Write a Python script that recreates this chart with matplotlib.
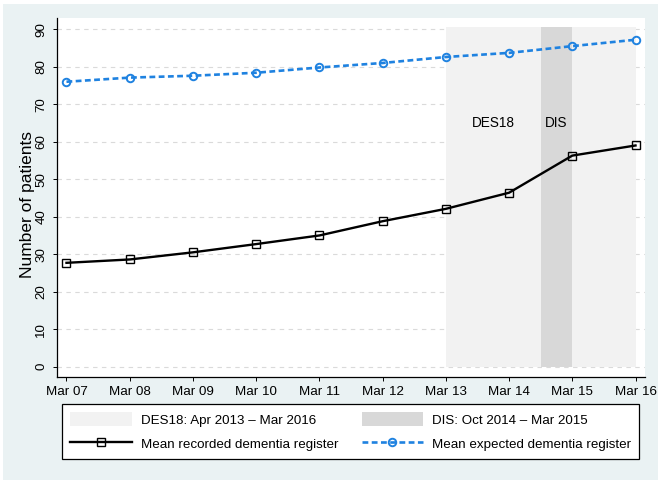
import matplotlib
matplotlib.use("Agg")
import matplotlib.pyplot as plt
from matplotlib.patches import Patch, Rectangle
from matplotlib.lines import Line2D

plt.rcParams['font.family'] = ['Liberation Sans', 'DejaVu Sans']

# ---- data ----
tick_labels = ["Mar 07", "Mar 08", "Mar 09", "Mar 10", "Mar 11",
               "Mar 12", "Mar 13", "Mar 14", "Mar 15", "Mar 16"]
recorded = [27.7, 28.6, 30.5, 32.7, 35.0, 38.8, 42.1, 46.4, 56.3, 59.0]
expected = [76.0, 77.1, 77.6, 78.4, 79.8, 81.0, 82.6, 83.7, 85.5, 87.2]
y_ticks = [0, 10, 20, 30, 40, 50, 60, 70, 80, 90]

# policy periods (in positions of the x categories)
des18_start, des18_end = 6.0, 9.0
dis_start, dis_end = 7.5, 8.0
band_top = 90.5
des18_text = "DES18"
dis_text = "DIS"
des18_legend = "DES18: Apr 2013 \u2013 Mar 2016"
dis_legend = "DIS: Oct 2014 \u2013 Mar 2015"
rec_label = "Mean recorded dementia register"
exp_label = "Mean expected dementia register"

# ---- styles ----
bg = "#EAF2F3"
des18_col = "#F2F2F2"
dis_col = "#D8D8D8"
blue = "#1F82E0"

W, H = 664, 484
fig = plt.figure(figsize=(W / 100, H / 100), dpi=100, facecolor="white")
fig.patches.append(Rectangle((3 / W, 4 / H), (658 - 3) / W, (480 - 4) / H,
                             transform=fig.transFigure, facecolor=bg,
                             edgecolor="none", zorder=-10))

ax = fig.add_axes([57 / W, 1 - 376.7 / H, (645 - 57) / W, (376.7 - 18) / H])
ax.set_facecolor("white")

x = list(range(len(tick_labels)))

ax.set_xlim(-0.15, 9.15)
ax.set_ylim(-2.67, 93.0)

# grid
for yv in y_ticks:
    ax.axhline(yv, color="#DADADA", lw=0.8, ls=(0, (4, 4)), zorder=0.5)

# bands
ax.fill_between([des18_start, des18_end], 0, band_top, color=des18_col,
                lw=0, zorder=1)
ax.fill_between([dis_start, dis_end], 0, band_top, color=dis_col,
                lw=0, zorder=1.1)

ax.text((des18_start + dis_start) / 2, 65, des18_text, ha="center",
        va="center", fontsize=9.8, zorder=2)
ax.text((dis_start + dis_end) / 2, 65, dis_text, ha="center",
        va="center", fontsize=9.8, zorder=2)

# lines
ax.plot(x, recorded, color="black", lw=1.7, marker="s", ms=5.5,
        mfc="none", mec="black", mew=1.0, zorder=3)
ax.plot(x, expected, color=blue, lw=1.9, ls=(0, (2.2, 1.3)), marker="o",
        ms=5.4, mfc="none", mec=blue, mew=1.4, zorder=3)

# axes
for s in ["top", "right"]:
    ax.spines[s].set_visible(False)
for s in ["left", "bottom"]:
    ax.spines[s].set_linewidth(0.9)
ax.set_xticks(x)
ax.set_xticklabels(tick_labels, fontsize=9.6)
ax.set_yticks(y_ticks)
ax.set_yticklabels([str(v) for v in y_ticks], fontsize=9.6, rotation=90,
                   va="center")
ax.tick_params(axis="x", length=3, width=0.7, pad=3.5)
ax.tick_params(axis="y", length=3, width=0.7, pad=4)
ax.set_ylabel("Number of patients", fontsize=12.5)
ax.yaxis.set_label_coords(-0.037, 0.48)

# legend
handles = [
    Patch(facecolor=des18_col, edgecolor="none"),
    Line2D([], [], color="black", lw=1.7, marker="s", ms=5.5, mfc="none",
           mec="black", mew=1.0),
    Patch(facecolor=dis_col, edgecolor="none"),
    Line2D([], [], color=blue, lw=1.9, ls=(0, (2.2, 1.3)), marker="o",
           ms=5.4, mfc="none", mec=blue, mew=1.4),
]
labels = [des18_legend, rec_label, dis_legend, exp_label]
leg = fig.legend(handles, labels, ncol=2, mode="expand",
                 bbox_to_anchor=(62.3 / W, 1 - 459 / H, (639.3 - 62.3) / W,
                                 (459 - 404.3) / H),
                 loc="lower left", fontsize=9.6, frameon=True,
                 fancybox=False, edgecolor="black", framealpha=1,
                 handlelength=4.6, handleheight=1.3, handletextpad=0.7,
                 labelspacing=0.72, borderpad=0.6, borderaxespad=0,
                 columnspacing=1.0)
leg.get_frame().set_linewidth(0.9)

fig.savefig("out.png", dpi=100, facecolor="white")
